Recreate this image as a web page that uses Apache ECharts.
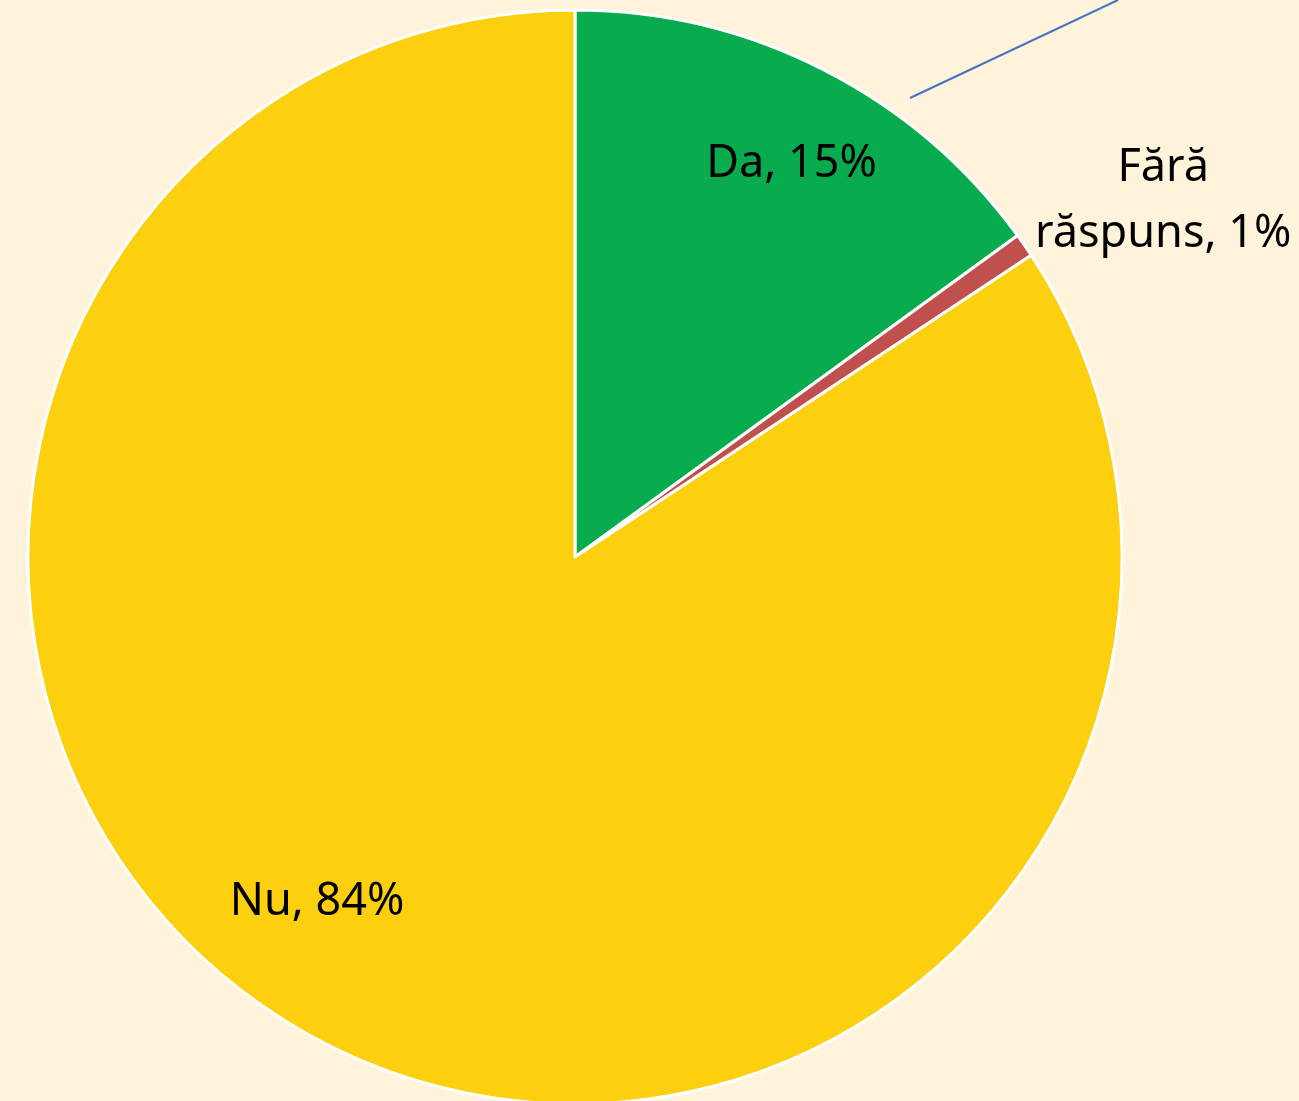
<!DOCTYPE html>
<html>
<head>
<meta charset="utf-8">
<script src="https://cdn.jsdelivr.net/npm/echarts@6/dist/echarts.min.js"></script>
<style>
  html, body { margin: 0; padding: 0; background: #FFF3DC; }
  #chart { width: 1299px; height: 1101px; }
</style>
</head>
<body>
<div id="chart"></div>
<script>
// categories + values (percent)
const categories = ['Da', 'Fără răspuns', 'Nu']
const values = [15.0, 0.7, 84.3]
const colors = ['#08AB4E', '#C0504D', '#FDD00F']

// nudge labels to where the original sits them
const labelShift = [[91, -146], [361, -198], [-127, 102]]

const chart = echarts.init(document.getElementById('chart'))

const pieData = categories.map((name, i) => {
  return { name: name, value: values[i], itemStyle: { color: colors[i] } }
})

chart.setOption({
  backgroundColor: '#FFF3DC',
  animation: false,
  graphic: [{
    type: 'line',
    shape: { x1: 910, y1: 98, x2: 1118, y2: 0 },
    style: { stroke: '#4472C4', lineWidth: 2 },
    z: 10
  }],
  series: [{
    type: 'pie',
    center: [575, 557],
    radius: 547,
    startAngle: 90,
    clockwise: true,
    percentPrecision: 0,
    data: pieData,
    itemStyle: { borderColor: '#ffffff', borderWidth: 3 },
    label: {
      show: true,
      position: 'inside',
      formatter: function (p) {
        // long name goes on two lines like the original
        const name = p.name == 'Fără răspuns' ? 'Fără\nrăspuns' : p.name
        return name + ', ' + p.percent + '%'
      },
      fontFamily: 'Noto Sans',
      fontSize: 45,
      lineHeight: 66,
      color: '#000000',
      align: 'center'
    },
    labelLine: { show: false },
    labelLayout: function (params) {
      const s = labelShift[params.dataIndex]
      return { dx: s[0], dy: s[1] }
    },
    emphasis: { disabled: true }
  }]
})
</script>
</body>
</html>
